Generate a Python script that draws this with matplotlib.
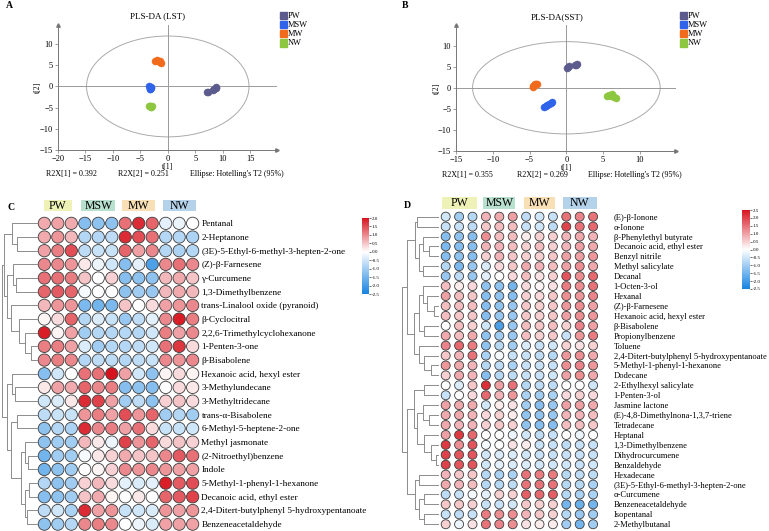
import numpy as np
import matplotlib
matplotlib.use('Agg')
import matplotlib.pyplot as plt
from matplotlib.patches import Ellipse, Rectangle
from matplotlib.colors import LinearSegmentedColormap, Normalize
from matplotlib.cm import ScalarMappable

plt.rcParams['font.family'] = ['Liberation Serif', 'DejaVu Serif']

W, H = 769, 531

groups = ['PW', 'MSW', 'MW', 'NW']
group_colors = ['#5b5b8e', '#2f63ea', '#f26b1d', '#8dc63f']
header_colors = ['#eef2b6', '#b8e0cf', '#f8dfb5', '#b5d2eb']

# PLS-DA score points (t[1], t[2])
lst_t1 = {'PW': [7.2, 7.4, 8.3, 8.5, 8.7, 8.8], 'MSW': [-3.4, -3.3, -3.2, -3.1, -3.0, -3.3],
          'MW': [-2.3, -2.0, -1.8, -1.5, -1.4, -1.2], 'NW': [-3.4, -3.3, -3.2, -3.1, -3.0, -2.9]}
lst_t2 = {'PW': [-1.3, -1.2, -0.8, -0.5, -0.3, -0.2], 'MSW': [0.0, -0.3, -0.6, -0.4, -0.2, -0.5],
          'MW': [6.1, 6.2, 6.0, 5.9, 5.8, 5.5], 'NW': [-4.7, -4.6, -4.5, -4.9, -4.8, -4.7]}
sst_t1 = {'PW': [0.1, 0.2, 0.3, 1.2, 1.3, 1.4], 'MSW': [-3.0, -2.8, -2.7, -2.4, -2.1, -1.9],
          'MW': [-4.6, -4.5, -4.4, -4.2, -4.1, -4.0], 'NW': [5.5, 5.8, 6.0, 6.2, 6.5, 6.7]}
sst_t2 = {'PW': [4.8, 5.0, 5.1, 5.4, 5.3, 5.6], 'MSW': [-4.5, -4.3, -4.1, -3.8, -3.5, -3.3],
          'MW': [0.4, 0.3, 0.6, 0.9, 0.8, 1.0], 'NW': [-2.0, -1.8, -1.9, -1.5, -2.2, -2.4]}

# heatmap C (LST)
c_names = ['Pentanal', '2-Heptanone', '(3E)-5-Ethyl-6-methyl-3-hepten-2-one', '(Z)-β-Farnesene',
           'γ-Curcumene', '1,3-Dimethylbenzene', 'trans-Linalool oxide (pyranoid)', 'β-Cyclocitral',
           '2,2,6-Trimethylcyclohexanone', '1-Penten-3-one', 'β-Bisabolene', 'Hexanoic acid, hexyl ester',
           '3-Methylundecane', '3-Methyltridecane', 'trans-α-Bisabolene', '6-Methyl-5-heptene-2-one',
           'Methyl jasmonate', '(2-Nitroethyl)benzene', 'Indole', '5-Methyl-1-phenyl-1-hexanone',
           'Decanoic acid, ethyl ester', '2,4-Ditert-butylphenyl 5-hydroxypentanoate', 'Benzeneacetaldehyde']
c_vals = [
    [0.7, 0.8, 0.7, -1.3, -1.2, -1.2, 1.2, 1.8, 1.3, -0.3, -0.2, 0.0],
    [0.7, 0.9, 0.6, -0.8, -0.8, -0.7, 1.8, 1.5, 1.2, -0.8, -0.8, -0.9],
    [0.8, 1.1, 1.5, -0.7, -0.6, -0.6, 1.3, 0.8, 1.0, -0.8, -0.9, -0.8],
    [1.0, 1.0, 0.9, 0.2, -0.2, -0.5, -1.3, -0.3, -1.9, 1.0, 1.2, 1.0],
    [1.2, 1.2, 1.1, 0.5, 0.0, 0.4, -1.3, -1.2, -1.2, 0.6, 0.7, 0.5],
    [1.3, 1.4, 1.3, -0.1, 0.0, 0.0, -1.2, -1.0, -1.1, 0.6, 0.7, 0.6],
    [0.6, 0.9, 0.9, -1.4, -1.5, -1.4, 0.5, 0.0, 0.3, 0.8, 0.9, 1.0],
    [0.1, 0.3, 1.3, -0.8, -0.4, -0.6, -1.1, -0.7, -0.3, 1.0, 1.9, 1.1],
    [1.9, 0.1, 0.8, -1.0, -0.8, -0.8, -0.8, -0.8, -0.5, 1.1, 0.8, 1.0],
    [1.1, 1.1, 0.8, -0.4, -1.0, -0.8, -0.8, -0.7, -0.5, 1.2, 1.7, 0.3],
    [1.0, 1.1, 1.0, -0.8, -0.7, -0.7, -0.8, -0.7, -0.6, 1.0, 0.9, 1.0],
    [-1.3, -0.5, 0.0, 1.2, 1.2, 2.0, 0.8, -0.5, -1.2, 0.1, 0.3, 0.1],
    [0.2, 0.8, 0.7, 1.3, 1.0, 1.1, -1.3, -1.2, -1.3, 0.0, 0.3, 0.2],
    [-0.5, -0.4, 0.2, 1.8, 1.6, 0.8, -1.0, -0.7, -1.2, 0.4, 0.5, 0.3],
    [-0.7, -0.6, -0.6, 0.9, 1.1, 0.8, 1.5, 0.9, 1.3, -1.0, -0.8, -1.0],
    [-1.2, -0.8, -0.9, 1.8, 1.0, 1.1, 0.8, 1.2, 0.3, -0.6, -0.6, -0.5],
    [-1.2, -1.0, -1.0, 0.6, 0.2, -0.2, 1.6, 0.9, 1.3, 0.3, 0.5, 0.4],
    [-1.5, -1.0, -1.0, -0.1, 0.2, 0.4, 0.7, 0.5, 0.5, 1.0, 1.4, 1.2],
    [-1.5, -1.2, -1.0, 0.0, 0.1, 0.4, 1.0, 0.9, 1.0, 0.9, 0.8, 0.8],
    [-0.8, -1.2, -1.0, 0.4, 0.6, 0.3, -0.3, -0.4, -0.3, 1.9, 1.4, 1.5],
    [-1.3, -1.2, -1.0, 0.5, 0.7, 0.1, 0.0, 0.2, 0.0, 1.3, 1.4, 1.6],
    [-0.7, -0.5, -0.9, 1.8, 0.8, 0.9, -0.6, -0.5, -0.4, 0.9, 0.8, 0.9],
    [-1.2, -1.0, -0.8, 1.0, 1.1, 1.0, 0.0, -0.2, -0.4, 0.8, 0.8, 0.8],
]

# heatmap D (SST)
d_names = ['(E)-β-Ionone', 'α-Ionone', 'β-Phenylethyl butyrate', 'Decanoic acid, ethyl ester',
           'Benzyl nitrile', 'Methyl salicylate', 'Decanal', '1-Octen-3-ol', 'Hexanal', '(Z)-β-Farnesene',
           'Hexanoic acid, hexyl ester', 'β-Bisabolene', 'Propionylbenzene', 'Toluene',
           '2,4-Ditert-butylphenyl 5-hydroxypentanoate', '5-Methyl-1-phenyl-1-hexanone', 'Dodecane',
           '2-Ethylhexyl salicylate', '1-Penten-3-ol', 'Jasmine lactone', '(E)-4,8-Dimethylnona-1,3,7-triene',
           'Tetradecane', 'Heptanal', '1,3-Dimethylbenzene', 'Dihydrocurcumene', 'Benzaldehyde',
           'Hexadecane', '(3E)-5-Ethyl-6-methyl-3-hepten-2-one', 'α-Curcumene', 'Benzeneacetaldehyde',
           'Isopentanal', '2-Methylbutanal']
d_vals = [
    [-0.5, -1.0, -0.8, 0.8, 0.9, 1.0, -0.7, -0.5, -0.6, 1.5, 1.3, 1.5],
    [-0.6, -0.6, -0.7, 0.6, 0.7, 0.7, -0.6, -0.5, -0.7, 2.0, 1.5, 1.6],
    [-1.3, -1.2, -1.3, 1.2, 0.7, 0.7, 0.2, 0.5, 0.5, 0.8, 0.9, 0.8],
    [-1.4, -1.3, -1.3, 0.8, 0.8, 0.7, 0.5, 0.7, 0.5, 0.8, 1.0, 0.9],
    [-1.3, -1.2, -1.3, 0.5, 0.8, 0.6, 0.5, 0.5, 0.6, 1.0, 1.0, 1.1],
    [-0.8, -1.4, -1.1, -0.4, 0.4, 0.6, 0.9, 0.8, 0.7, 1.0, 1.2, 0.9],
    [-1.1, -0.7, -1.1, -0.3, 0.0, 0.4, 0.7, 0.3, 0.5, 1.8, 1.2, 1.6],
    [0.7, 0.2, 0.4, -1.2, -1.2, -1.5, 0.4, 0.1, 0.3, 1.4, 1.2, 1.5],
    [1.0, 0.7, 0.6, -1.3, -1.2, -1.3, 0.5, 0.4, 0.6, 1.2, 1.1, 1.3],
    [0.7, 0.7, 0.7, -1.3, -1.2, -1.1, 0.6, 0.5, 0.6, 1.1, 1.2, 1.0],
    [0.7, 0.6, 0.6, -1.3, -1.1, -1.1, 0.6, 0.5, 0.6, 1.0, 1.2, 1.1],
    [0.0, 0.7, 0.5, -0.5, -1.9, -1.1, 0.7, 0.6, 0.7, 0.5, 1.3, 1.0],
    [0.9, 0.7, 0.9, -1.2, -1.0, -1.1, 0.7, 0.5, 0.6, -0.6, 1.1, 1.4],
    [1.3, 1.6, 1.4, -1.2, -0.8, -1.0, -0.4, -0.6, -0.5, 0.5, 0.3, 0.5],
    [0.6, 0.8, 1.5, -0.9, -0.1, -0.6, -0.6, -0.7, -0.8, 1.1, 1.2, 0.9],
    [1.1, 0.9, 0.8, -0.8, -0.7, -0.9, -0.6, -0.6, -0.6, 1.2, 1.3, 1.1],
    [0.5, 0.9, 0.8, -1.3, -0.8, -0.7, -0.6, -0.6, -0.5, 1.0, 1.2, 0.9],
    [0.0, -0.4, 0.6, 2.2, 1.0, 1.5, -0.8, -0.7, -0.7, 0.0, 0.0, -0.5],
    [-0.6, 0.0, 0.4, 1.6, 0.8, 1.1, -0.9, -1.0, -0.9, 0.4, 0.5, 0.4],
    [1.0, 0.9, 0.9, -0.5, 0.2, 0.3, -1.0, -1.3, -1.1, 1.0, 1.0, 0.9],
    [0.9, 0.9, 0.8, 0.4, 0.5, 0.2, -1.2, -1.2, -1.1, 0.8, 0.8, 0.7],
    [0.9, 0.8, 0.8, 0.5, 0.6, 0.5, -1.2, -1.3, -1.3, 0.7, 0.7, 0.6],
    [1.0, 2.1, 1.6, 0.0, 0.0, -0.2, -0.5, -0.7, -0.6, 0.0, -0.2, 0.0],
    [2.1, 1.2, 1.8, -0.1, 0.0, 0.3, 0.2, -0.6, -0.6, -0.7, -0.6, -0.6],
    [2.0, 1.8, 1.8, -0.5, -0.4, -0.4, -0.5, -0.6, -0.6, -0.6, -0.6, -0.6],
    [2.0, 1.8, 1.8, -0.5, -0.3, -0.4, -0.4, -0.5, -0.5, -0.5, -0.6, -0.5],
    [0.8, 0.6, 0.6, -0.8, -0.9, -0.9, 1.5, 1.4, 1.4, -0.8, -0.7, -0.7],
    [0.9, 0.8, 0.7, -0.8, -0.8, -0.7, 1.5, 1.5, 1.5, -0.8, -0.8, -0.9],
    [-0.7, -0.6, -0.1, -0.3, 0.5, 0.5, 1.7, 1.6, 1.7, -0.8, -0.9, -0.9],
    [0.6, 0.6, 0.5, -0.6, -0.6, -0.5, 0.6, 0.5, 0.5, -1.5, -1.6, -1.5],
    [-0.6, -0.7, -0.6, 1.4, 1.2, 1.2, 0.8, 0.6, 0.5, -0.8, -1.1, -1.0],
    [0.5, -0.2, 0.3, 1.5, 1.3, 1.2, 0.3, 0.2, 0.2, -1.0, -1.5, -1.0],
]

# row dendrograms as (height, left, right); leaves are row indices
c_tree = (111,
          (104, (79, 0, (64, 1, 2)),
           (94, (76, 3, (66, 4, 5)), (84, 6, (59, 7, (39, 8, (22, 9, 10)))))),
          (95, (79, 11, (69, 12, 13)),
           (82, (64, 14, 15), (52, (40, 16, (30, 17, 18)), (38, (28, 19, 20), (32, 21, 22))))))
d_tree = (110,
          (95, (72, (65, 0, 1), (60, (47, 2, (30, 3, 4)), (47, 5, 6))),
           (75, (60, (47, 7, (35, 8, (15, 9, 10))), (45, 11, 12)),
            (60, 13, (45, 14, (25, 15, 16))))),
          (95, (75, (45, 17, 18),
                (65, (47, 19, (30, 20, 21)), (45, 22, (25, 23, (10, 24, 25))))),
           (70, (60, 26, 27), (60, (45, 28, 29), (45, 30, 31)))))


def rect(x0, y0, x1, y1):
    return [x0 / W, 1 - y1 / H, (x1 - x0) / W, (y1 - y0) / H]


def fpos(x, y):
    return x / W, 1 - y / H


fig = plt.figure(figsize=(W / 100, H / 100), dpi=100)


def pls_panel(box, xlim, ylim, xt, yt, ell, t1, t2, title, tpos, foot, fy, leg_x, label, lpos,
              xlab_xy, ylab_xy):
    ax = fig.add_axes(rect(*box))
    ax.set_xlim(*xlim)
    ax.set_ylim(*ylim)
    for s in ['top', 'right']:
        ax.spines[s].set_visible(False)
    for s in ['left', 'bottom']:
        ax.spines[s].set_color('#777777')
        ax.spines[s].set_linewidth(0.7)
    ax.set_xticks(xt)
    ax.set_yticks(yt)
    ax.tick_params(labelsize=6, length=2, width=0.5, color='#777777', pad=1.5)
    ax.axhline(0, color='#9a9a9a', lw=0.7)
    ax.axvline(0, color='#9a9a9a', lw=0.7)
    ax.add_patch(Ellipse((0, 0), 2 * ell[0], 2 * ell[1], fill=False, ec='#aaaaaa', lw=0.7))
    ax.plot(1, 0, '>', color='#777777', ms=2.5, transform=ax.transAxes, clip_on=False)
    ax.plot(0, 1, '^', color='#777777', ms=2.5, transform=ax.transAxes, clip_on=False)
    for g, c in zip(groups, group_colors):
        ax.scatter(t1[g], t2[g], s=26, color=c, edgecolor=c, lw=0.3, zorder=3)
    ax.set_xlabel('t[1]', fontsize=5.5)
    ax.set_ylabel('t[2]', fontsize=5.5)
    ax.xaxis.set_label_coords(*xlab_xy)
    ax.yaxis.set_label_coords(*ylab_xy)
    fig.text(*fpos(*tpos), title, fontsize=6.5, ha='center', va='center')
    for txt, x in foot:
        fig.text(*fpos(x, fy), txt, fontsize=5.8, ha='left', va='center')
    for i, (g, c) in enumerate(zip(groups, group_colors)):
        y = 15.7 + i * 9.1
        fig.add_artist(Rectangle(fpos(leg_x, y + 3.5), 7 / W, 7 / H, color=c,
                                 transform=fig.transFigure))
        fig.text(*fpos(leg_x + 7.5, y), g, fontsize=6, ha='left', va='center')
    fig.text(*fpos(*lpos), label, fontsize=7, fontweight='bold', ha='left', va='center')


pls_panel((58, 25, 277, 150), (-20, 19.9), (-15, 14.5), range(-20, 20, 5), range(-15, 11, 5),
          (14.8, 11.9), lst_t1, lst_t2, 'PLS-DA (LST)', (158, 16),
          [('R2X[1] = 0.392', 46), ('R2X[2] = 0.251', 118), ("Ellipse: Hotelling's T2 (95%)", 190)],
          174, 280, 'A', (6, 6), (0.501, -0.106), (-0.075, 0.5))
pls_panel((456, 25, 676, 151), (-15, 14.9), (-15, 14.9), range(-15, 11, 5), range(-15, 11, 5),
          (12.75, 10.95), sst_t1, sst_t2, 'PLS-DA(SST)', (557, 17.5),
          [('R2X[1] = 0.355', 442), ('R2X[2] = 0.269', 517), ("Ellipse: Hotelling's T2 (95%)", 588)],
          175, 680, 'B', (402, 5), (0.502, -0.1), (-0.07, 0.5))


def make_cmap(vmin, vmax):
    mid = -vmin / (vmax - vmin)
    return LinearSegmentedColormap.from_list(
        'bwr_c', [(0, '#1683e0'), (mid, '#ffffff'), (1, '#d7141e')])


def draw_tree(ax, node):
    if isinstance(node, int):
        return node, 0
    h, l, r = node
    yl, hl = draw_tree(ax, l)
    yr, hr = draw_tree(ax, r)
    ax.plot([hl, h, h, hr], [yl, yl, yr, yr], color='#8c8c8c', lw=0.7)
    return (yl + yr) / 2, h


def heat_panel(hbox, dbox, cbox, names, vals, vmin, vmax, size, fs, pad, tree, cticks,
               hy, hw, hh, hfs, label, lpos):
    vals = np.array(vals)
    nr, nc = vals.shape
    cmap = make_cmap(vmin, vmax)
    norm = Normalize(vmin, vmax)
    ax = fig.add_axes(rect(*hbox))
    xx, yy = np.meshgrid(np.arange(nc), np.arange(nr))
    ax.scatter(xx.ravel(), yy.ravel(), c=vals.ravel(), cmap=cmap, norm=norm, s=size,
               edgecolor='#3c3c3c', lw=0.6, clip_on=False)
    ax.set_xlim(-0.5, nc - 0.5)
    ax.set_ylim(nr - 0.5, -0.5)
    ax.set_xticks([])
    ax.yaxis.tick_right()
    ax.set_yticks(range(nr))
    ax.set_yticklabels(names, fontsize=fs)
    ax.tick_params(axis='y', length=0, pad=pad)
    for s in ax.spines.values():
        s.set_visible(False)
    ax.patch.set_alpha(0)
    for i, (g, c) in enumerate(zip(groups, header_colors)):
        ax.add_patch(Rectangle((3 * i + 1 - hw[i] / 2, hy - hh / 2), hw[i], hh, fc=c, ec='none',
                               clip_on=False))
        ax.text(3 * i + 1, hy + 0.04 * hh, g, fontsize=hfs, ha='center', va='center', clip_on=False)
    dax = fig.add_axes(rect(*dbox))
    draw_tree(dax, tree)
    dax.set_xlim(tree[0], 0)
    dax.set_ylim(nr - 0.5, -0.5)
    dax.axis('off')
    cax = fig.add_axes(rect(*cbox))
    cb = fig.colorbar(ScalarMappable(norm=norm, cmap=cmap), cax=cax, ticks=cticks)
    cb.outline.set_visible(False)
    cb.ax.set_yticklabels(['%.1f' % t for t in cticks])
    cb.ax.tick_params(labelsize=3.6, length=1.2, width=0.4, pad=0.6)
    fig.text(*fpos(*lpos), label, fontsize=7, fontweight='bold', ha='left', va='center')


heat_panel((37.6, 216.5, 199.4, 531), (2, 216.5, 37.6, 531), (362, 218, 369, 294),
           c_names, c_vals, -2.5, 2.0, 78, 6.7, 1.5, c_tree, np.arange(2.0, -2.6, -0.5),
           -1.3, [2.1, 2.5, 2.45, 2.45], 0.82, 8.5, 'C', (7, 208))
heat_panel((439, 211.7, 599.8, 529.2), (402, 211.7, 439, 529.2), (742, 210, 750, 289),
           d_names, d_vals, -2.5, 2.5, 42, 6.1, 10, d_tree, np.arange(2.5, -2.6, -0.5),
           -1.38, [2.6, 2.4, 2.25, 2.55], 1.2, 8.5, 'D', (404, 205))

fig.savefig('out.png', dpi=100)
